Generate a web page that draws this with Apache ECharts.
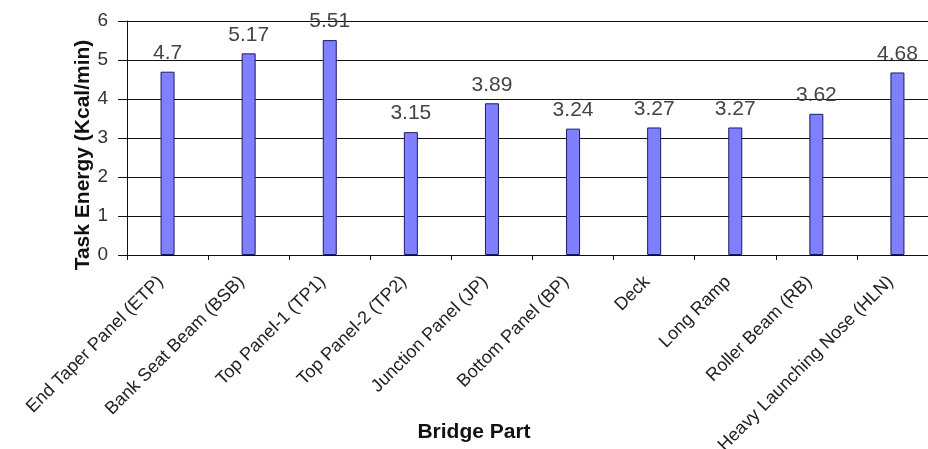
<!DOCTYPE html>
<html><head><meta charset="utf-8">
<script src="https://cdn.jsdelivr.net/npm/echarts@6/dist/echarts.min.js"></script>
<style>html,body{margin:0;padding:0;background:#fff}#c{width:928px;height:449px}</style>
</head><body><div id="c"></div>
<script>
const categories = ["End Taper Panel (ETP)","Bank Seat Beam (BSB)","Top Panel-1 (TP1)","Top Panel-2 (TP2)","Junction Panel (JP)","Bottom Panel (BP)","Deck","Long Ramp","Roller Beam (RB)","Heavy Launching Nose (HLN)"];
const energy = [4.7,5.17,5.51,3.15,3.89,3.24,3.27,3.27,3.62,4.68];
const yTitle = "Task Energy (Kcal/min)";
const xTitle = "Bridge Part";
const FONT = "'Liberation Sans', Arial, sans-serif";
const chart = echarts.init(document.getElementById('c'));
chart.setOption({
  animation:false,
  backgroundColor:'#fff',
  grid:{left:127,right:-10,top:21,bottom:194,containLabel:false,outerBoundsMode:'none'},
  xAxis:{type:'category',data:categories,
    axisLine:{lineStyle:{color:'#111',width:1}},
    axisTick:{show:true,length:5,lineStyle:{color:'#111'}},
    axisLabel:{rotate:45,fontSize:18,color:'#222',fontFamily:FONT,margin:17,padding:[0,10,0,0],interval:0}},
  yAxis:{type:'value',min:0,max:6,interval:1,
    axisLine:{show:true,lineStyle:{color:'#111'}},
    axisTick:{show:true,length:9,inside:false,lineStyle:{color:'#111'}},
    axisLabel:{fontSize:19,color:'#333',fontFamily:FONT,margin:19},
    splitLine:{show:true,lineStyle:{color:'#111',width:1.2}}},
  graphic:[
    {type:'text',x:83,y:155,rotation:Math.PI/2,style:{text:yTitle,font:"bold 21px "+FONT,fill:'#111',textAlign:'center',textVerticalAlign:'middle'}},
    {type:'text',x:474,y:432,style:{text:xTitle,font:"bold 21px "+FONT,fill:'#111',textAlign:'center',textVerticalAlign:'middle'}}
  ],
  series:[{type:'bar',data:energy,barWidth:14,
    itemStyle:{color:'#8080ff',borderColor:'#1a1a66',borderWidth:1},
    label:{show:true,position:'top',distance:8,fontSize:21,color:'#444',fontFamily:FONT}}]
});
</script></body></html>
